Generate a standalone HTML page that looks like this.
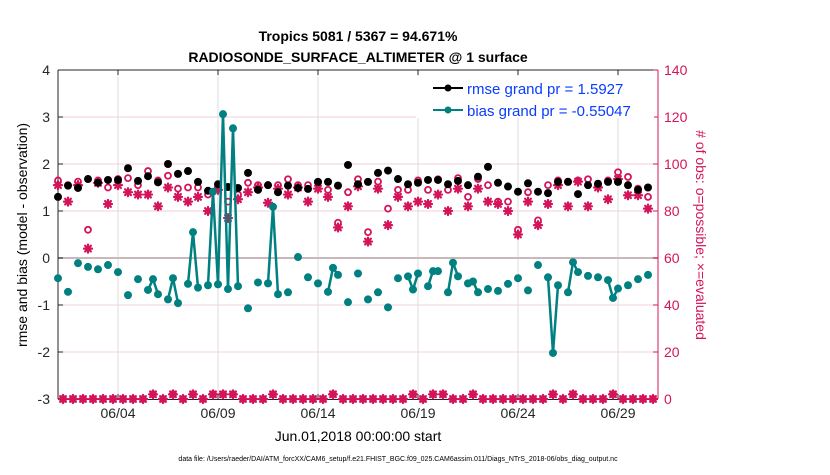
<!DOCTYPE html>
<html><head><meta charset="utf-8"><style>
body{margin:0;background:#fff;}
svg text{font-family:"Liberation Sans",sans-serif;}
</style></head><body>
<svg id="chart" width="830" height="470" viewBox="0 0 830 470" xmlns="http://www.w3.org/2000/svg">
<rect width="830" height="470" fill="#fff"/>
<g id="grid"></g>
<g id="axes"></g>
<g id="marks"></g>
<text x="358" y="41" text-anchor="middle" font-size="14" font-weight="bold">Tropics 5081 / 5367 = 94.671%</text>
<text x="358" y="62" text-anchor="middle" font-size="14" font-weight="bold">RADIOSONDE_SURFACE_ALTIMETER @ 1 surface</text>
<text transform="translate(27,235) rotate(-90)" text-anchor="middle" font-size="14">rmse and bias (model - observation)</text>
<text transform="translate(696,235) rotate(90)" text-anchor="middle" font-size="14" fill="#d4145a"># of obs: o=possible; ×=evaluated</text>
<text x="358" y="441" text-anchor="middle" font-size="14">Jun.01,2018 00:00:00 start</text>
<text x="398" y="461" text-anchor="middle" font-size="7">data file: /Users/raeder/DAI/ATM_forcXX/CAM6_setup/f.e21.FHIST_BGC.f09_025.CAM6assim.011/Diags_NTrS_2018-06/obs_diag_output.nc</text>
<g>
<rect x="416" y="76" width="238" height="42" fill="#fff"/>
<line x1="433" y1="88" x2="463" y2="88" stroke="#000" stroke-width="2"/><circle cx="448" cy="88" r="3.5" fill="#000"/>
<text x="467" y="94" font-size="15" fill="#0a3cff">rmse grand pr = 1.5927</text>
<line x1="433" y1="110" x2="463" y2="110" stroke="#008080" stroke-width="2"/><circle cx="448" cy="110" r="3.5" fill="#008080"/>
<text x="467" y="116" font-size="15" fill="#0a3cff">bias grand pr = -0.55047</text>
</g>
</svg>
<script>
// 6-hourly slots j = 0..120 starting Jun 01 00:00
const rmseEven = [1.30,1.54,1.49,1.68,1.6,1.66,1.66,1.91,1.64,1.74,1.61,2.0,1.79,1.85,1.62,1.43,1.57,1.51,1.49,1.81,1.45,
1.55,1.4,1.54,1.49,1.47,1.62,1.62,1.54,1.98,1.57,1.62,1.81,1.86,1.68,1.57,1.6,1.66,1.66,1.57,1.64,
1.55,1.73,1.94,1.6,1.52,1.41,1.59,1.41,1.38,1.62,1.62,1.36,1.55,1.58,1.62,1.62,1.55,1.45,1.5];
const possibleEven = [93,91,92.5,72,93,90,93.6,94,91,97,93,95,89.5,90,90,87,90,84,87,92,91,
91,91,93.5,91,91,92,89,75,88,93.5,71,92.5,81,89,89,93,89,93.5,89,94,
86,93.6,91,84,84,72,88,76,91,93,92.5,93,93.5,91,93,96.5,94.5,89.5,86];
const evaluatedEven = [91,84,91,64,92,83,91,88,87,87,82,90,86,84,86,80,89,77,85,88,90,
83.5,89.5,87,90,84,89.5,86,73,82,90.5,67,89.5,74,86,82,84,83,87,80,89.5,
82,89.5,84,83,80,70,84,74,83,91,82,92.5,82,90,85,93.6,86.7,86.7,81];
const biasAll = [-0.43,null,-0.72,null,-0.11,null,-0.19,null,-0.24,null,-0.15,null,-0.3,null,-0.79,null,-0.45,null,-0.68,-0.45,
-0.77,null,-0.88,-0.43,-0.96,null,-0.55,0.55,-0.63,null,-0.58,1.41,-0.56,3.06,-0.66,2.76,-0.6,null,-1.07,null,
-0.52,null,-0.54,1.09,-0.77,null,-0.73,null,0.02,null,-0.41,null,-0.54,null,-0.72,-0.21,-0.36,null,-0.94,null,
-0.33,null,-0.88,null,-0.73,null,-1.05,null,-0.43,null,-0.39,-0.67,-0.33,null,-0.6,-0.28,-0.28,null,-0.73,-0.1,
-0.39,null,-0.54,-0.5,-0.73,null,-0.66,null,-0.7,null,-0.55,null,-0.43,null,-0.69,null,-0.15,null,-0.41,-2.02,
-0.58,null,-0.73,-0.09,-0.3,null,-0.38,null,-0.41,null,-0.47,-0.85,-0.65,null,-0.58,null,-0.45,null,-0.36,null,null];
const oddCounts = [0,0,0,0,0,0,0,0,0,2,0,2,0,2,0,2,2,2,0,0,0,2,0,0,0,0,0,2,0,0,0,0,0,0,0,2,0,2,2,0,0,2,0,0,0,0,0,0,0,2,0,2,0,0,0,2,0,0,0,0];
const leftTicks = [-3,-2,-1,0,1,2,3,4];
const rightTicks = [0,20,40,60,80,100,120,140];
const dateTicks = [4,9,14,19,24,29];
const dateLabels = ["06/04","06/09","06/14","06/19","06/24","06/29"];

const NS="http://www.w3.org/2000/svg";
const X0=58,X1=658,Y0=70,Y1=399;
const xs = j => X0 + (j*0.25)/30*(X1-X0);
const xd = d => X0 + (d-1)/30*(X1-X0);
const yl = v => Y1 - (v+3)/7*(Y1-Y0);
const yr = n => Y1 - n/140*(Y1-Y0);
const PINK="#d4145a", TEAL="#008080";
function mk(tag, attrs, parent){const e=document.createElementNS(NS,tag);for(const k in attrs)e.setAttribute(k,attrs[k]);parent.appendChild(e);return e;}
const grid=document.getElementById('grid'),axes=document.getElementById('axes'),marks=document.getElementById('marks');

rightTicks.forEach(n=>{ if(n>0&&n<140){const l=mk('line',{x1:X0,x2:X1,y1:yr(n),y2:yr(n),stroke:'#f2cfdc','stroke-width':1},grid);

}});
dateTicks.forEach(d=>{const l=mk('line',{x1:xd(d),x2:xd(d),y1:Y0,y2:Y1,stroke:'#dcdcdc','stroke-width':1},grid);

});
const zl=mk('line',{x1:X0,x2:X1,y1:yl(0),y2:yl(0),stroke:'#c8b8bc','stroke-width':2},grid);



mk('line',{x1:X0,x2:X0,y1:Y0,y2:Y1,stroke:'#262626'},axes);
mk('line',{x1:X0,x2:X1,y1:Y1+0.5,y2:Y1+0.5,stroke:'#262626'},axes);
mk('line',{x1:X0,x2:X1,y1:Y0,y2:Y0,stroke:'#262626'},axes);
mk('line',{x1:X1,x2:X1,y1:Y0,y2:Y1,stroke:PINK},axes);
leftTicks.forEach(v=>{const y=yl(v);mk('line',{x1:X0,x2:X0+5,y1:y,y2:y,stroke:'#262626'},axes);
const t=mk('text',{x:X0-8,y:y+5,'text-anchor':'end','font-size':14,fill:'#262626'},axes);t.textContent=v;

});
rightTicks.forEach(n=>{const y=yr(n);mk('line',{x1:X1-5,x2:X1,y1:y,y2:y,stroke:PINK},axes);
const t=mk('text',{x:X1+6,y:y+5,'font-size':14,fill:PINK},axes);t.textContent=n;

});
dateTicks.forEach((d,i)=>{const x=xd(d);mk('line',{x1:x,x2:x,y1:Y1,y2:Y1-5,stroke:'#262626'},axes);mk('line',{x1:x,x2:x,y1:Y0,y2:Y0+5,stroke:'#262626'},axes);
const t=mk('text',{x:x,y:Y1+19,'text-anchor':'middle','font-size':14,fill:'#262626'},axes);t.textContent=dateLabels[i];

});

function star(x,y,parent,name){const g=mk('g',{stroke:PINK,'stroke-width':2.2,'stroke-linecap':'round'},parent);


const r=4;mk('line',{x1:x-r,x2:x+r,y1:y,y2:y},g);mk('line',{x1:x,x2:x,y1:y-r,y2:y+r},g);
mk('line',{x1:x-r*0.72,x2:x+r*0.72,y1:y-r*0.72,y2:y+r*0.72},g);mk('line',{x1:x-r*0.72,x2:x+r*0.72,y1:y+r*0.72,y2:y-r*0.72},g);}
function ring(x,y,parent,name){const c=mk('circle',{cx:x,cy:y,r:3,fill:'none',stroke:PINK,'stroke-width':1.8},parent);

}

oddCounts.forEach((n,k)=>{const j=2*k+1;star(xs(j),yr(n),marks,'evaluated-odd');ring(xs(j),yr(n),marks,'possible-odd');});
evaluatedEven.forEach((n,k)=>star(xs(2*k),yr(n),marks,'evaluated-point'));
possibleEven.forEach((n,k)=>ring(xs(2*k),yr(n),marks,'possible-point'));
rmseEven.forEach((v,k)=>{const c=mk('circle',{cx:xs(2*k),cy:yl(v),r:4,fill:'#000'},marks);

});
for(let j=0;j<biasAll.length-1;j++){if(biasAll[j]!==null&&biasAll[j+1]!==null){
const l=mk('line',{x1:xs(j),y1:yl(biasAll[j]),x2:xs(j+1),y2:yl(biasAll[j+1]),stroke:TEAL,'stroke-width':2.5},marks);

}}
biasAll.forEach((v,j)=>{if(v!==null){const c=mk('circle',{cx:xs(j),cy:yl(v),r:4,fill:TEAL},marks);

}});
</script>
</body></html>
